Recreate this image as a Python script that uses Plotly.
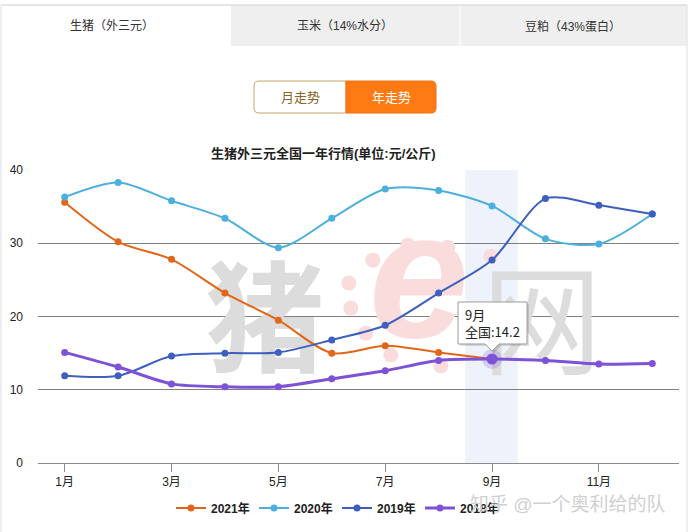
import plotly.graph_objects as go

# Data (元/公斤)
months = [1, 2, 3, 4, 5, 6, 7, 8, 9, 10, 11, 12]
month_labels = ['1月', '3月', '5月', '7月', '9月', '11月']
month_ticks = [1, 3, 5, 7, 9, 11]
y2021 = [35.6, 30.2, 27.8, 23.2, 19.5, 15.0, 16.0, 15.1, 14.2]
y2020 = [36.3, 38.3, 35.8, 33.4, 29.4, 33.4, 37.4, 37.2, 35.1, 30.6, 29.9, 34.0]
y2019 = [11.9, 11.9, 14.6, 15.0, 15.1, 16.8, 18.8, 23.2, 27.7, 36.1, 35.2, 34.0]
y2018 = [15.1, 13.1, 10.8, 10.4, 10.4, 11.5, 12.6, 14.0, 14.2, 14.0, 13.5, 13.6]

series = [('2021年', y2021, '#e2661a', 2),
          ('2020年', y2020, '#4bb0dd', 2),
          ('2019年', y2019, '#3f5fbf', 2),
          ('2018年', y2018, '#7d52d6', 3)]

hover_idx = 8  # 9月 highlighted in the reference

W, H = 692, 532
L, R, T, B = 38, 13, 170, 69
PW, PH = W - L - R, H - T - B
FONT = 'Arial, Noto Sans CJK SC, sans-serif'


###################################
# helpers for page decoration drawn in screen pixels
def ppx(x):
    return (x - L) / PW


def ppy(y):
    return (H - B - y) / PH


def rel(x, y):
    return f'{x - L},{H - B - y}'


def pix_path(path, **kw):
    return dict(type='path', xref='paper', yref='paper', xsizemode='pixel', ysizemode='pixel',
                xanchor=0, yanchor=0, path=path, **kw)


def pix_rect(x0, y0, x1, y1, **kw):
    return pix_path(f'M{rel(x0, y0)} L{rel(x1, y0)} L{rel(x1, y1)} L{rel(x0, y1)} Z', **kw)


def dx(x):
    return 1 + (x - 64) / 53.4


def dy(y):
    return (463 - y) / 7.33


fig = go.Figure()

# Watermark (below the lines)
fig.add_trace(go.Scatter(x=[dx(264), dx(541)], y=[dy(333), dy(336)], mode='text',
                         text=['<b>猪</b>', '网'], textfont=dict(size=120, color='#dcdcdc', family='Noto Sans CJK SC'),
                         showlegend=False, hoverinfo='skip'))
fig.add_trace(go.Scatter(x=[dx(418)], y=[dy(292)], mode='text', text=['<b><i>e</i></b>'],
                         textfont=dict(size=180, color='#fadcdc', family='Arial'),
                         showlegend=False, hoverinfo='skip'))
dot_x = [407, 447, 490, 372, 348, 350, 365, 390, 440]
dot_y = [245, 247, 256, 260, 283, 308, 333, 355, 366]
fig.add_trace(go.Scatter(x=[dx(v) for v in dot_x], y=[dy(v) for v in dot_y], mode='markers',
                         marker=dict(size=15, color='#fadcdc'), showlegend=False, hoverinfo='skip'))

# Series
for name, vals, color, lw in series:
    fig.add_trace(go.Scatter(x=months[:len(vals)], y=vals, name=name, mode='lines+markers',
                             line=dict(color=color, width=lw, shape='spline', smoothing=0.8),
                             marker=dict(size=7, color=color)))

# Hovered point halo
fig.add_trace(go.Scatter(x=[months[hover_idx]], y=[y2018[hover_idx]], mode='markers',
                         marker=dict(size=20, color='rgba(125,82,214,0.22)'), showlegend=False, hoverinfo='skip'))
fig.add_trace(go.Scatter(x=[months[hover_idx]], y=[y2018[hover_idx]], mode='markers',
                         marker=dict(size=11, color='#7d52d6'), showlegend=False, hoverinfo='skip'))

shapes = []
# page frame and tabs
shapes.append(pix_rect(231, 5, 687, 46, fillcolor='#efefef', line=dict(width=0), layer='below'))
shapes.append(pix_path(f'M{rel(460, 5)} L{rel(460, 46)}', line=dict(color='#ffffff', width=1)))
shapes.append(pix_rect(1, 5, 687, 540, line=dict(color='#d9dee6', width=1), layer='below'))
shapes.append(pix_path(f'M{rel(1, 5)} L{rel(687, 5)}', line=dict(color='#dcdcdc', width=1)))

# buttons
r = 5
shapes.append(pix_path(f'M{rel(346, 81)} L{rel(254 + r, 81)} Q{rel(254, 81)} {rel(254, 81 + r)} '
                       f'L{rel(254, 113 - r)} Q{rel(254, 113)} {rel(254 + r, 113)} L{rel(346, 113)} Z',
                       fillcolor='#ffffff', line=dict(color='#c9a46a', width=1)))
shapes.append(pix_path(f'M{rel(346, 81)} L{rel(436 - r, 81)} Q{rel(436, 81)} {rel(436, 81 + r)} '
                       f'L{rel(436, 113 - r)} Q{rel(436, 113)} {rel(436 - r, 113)} L{rel(346, 113)} Z',
                       fillcolor='#ff7a12', line=dict(color='#f07010', width=1)))

# highlight band for the hovered month
shapes.append(dict(type='rect', xref='x', yref='paper', x0=months[hover_idx] - 0.5, x1=months[hover_idx] + 0.48,
                   y0=0, y1=1, fillcolor='#eef2fa', line=dict(width=0), layer='below'))

# tooltip box with notch, anchored to the hovered point
tip = 'M-34,57 L35,57 L35,15 L7,15 L0,8 L-7,15 L-34,15 Z'
shadow = 'M-32,55 L37,55 L37,13 L9,13 L2,6 L-5,13 L-32,13 Z'
for p, fc, lc in [(shadow, 'rgba(0,0,0,0.12)', 'rgba(0,0,0,0)'), (tip, '#ffffff', '#9a9a9a')]:
    shapes.append(dict(type='path', xref='x', yref='y', xsizemode='pixel', ysizemode='pixel',
                       xanchor=months[hover_idx], yanchor=y2018[hover_idx], path=p,
                       fillcolor=fc, line=dict(color=lc, width=1)))

annotations = [
    dict(x=112, y=26, text='生猪（外三元）', size=12, color='#333333'),
    dict(x=345, y=26, text='玉米（14%水分）', size=12, color='#333333'),
    dict(x=573, y=26, text='豆粕（43%蛋白）', size=12, color='#333333'),
    dict(x=300, y=97, text='月走势', size=13, color='#8a6424'),
    dict(x=391, y=97, text='年走势', size=13, color='#ffffff'),
    dict(x=323, y=153, text='<b>生猪外三元全国一年行情(单位:元/公斤)</b>', size=13, color='#222222'),
    dict(x=568, y=504, text='知乎 @一个奥利给的队', size=19, color='#d0d0d0'),
]
for a in annotations:
    a.update(x=ppx(a['x']), y=ppy(a['y']), xref='paper', yref='paper', xanchor='center', yanchor='middle',
             showarrow=False, font=dict(size=a.pop('size'), color=a.pop('color'), family=FONT))
annotations.append(
    dict(x=months[hover_idx], y=y2018[hover_idx], xref='x', yref='y', xanchor='left', yanchor='top',
         xshift=-29, yshift=56, align='left', showarrow=False,
         text=f'{month_labels[4]}<br>全国:{y2018[hover_idx]}',
         font=dict(size=13, color='#222222', family='Noto Sans CJK SC')))

fig.update_layout(
    width=W, height=H,
    margin=dict(l=L, r=R, t=T, b=B, pad=0, autoexpand=False),
    paper_bgcolor='#ffffff', plot_bgcolor='#ffffff',
    font=dict(family=FONT, size=12, color='#222222'),
    shapes=shapes, annotations=annotations,
    legend=dict(orientation='h', x=ppx(337), xanchor='center', y=ppy(508), yanchor='middle',
                font=dict(size=12, color='#222222', family=FONT, weight='bold'),
                itemwidth=30, entrywidth=38, bgcolor='rgba(0,0,0,0)'),
    xaxis=dict(range=[0.5, 12.5], tickvals=month_ticks, ticktext=month_labels, showgrid=False,
               zeroline=False, showline=True, linecolor='#8a8a8a', linewidth=1,
               ticks='outside', ticklen=8, tickcolor='#8a8a8a', tickfont=dict(size=12, color='#222222')),
    yaxis=dict(range=[0, 40], tickvals=[0, 10, 20, 30, 40], showgrid=True, gridcolor='#7f7f7f',
               gridwidth=1, zeroline=False, showline=False, ticks='', ticklabelstandoff=14,
               tickfont=dict(size=12, color='#222222')),
    showlegend=True,
    hovermode=False,
)

# page body margin off so the figure sits at the window's top-left corner
fig.write_html('out.html', config={'displayModeBar': False},
               post_script="document.body.style.margin='0';")
